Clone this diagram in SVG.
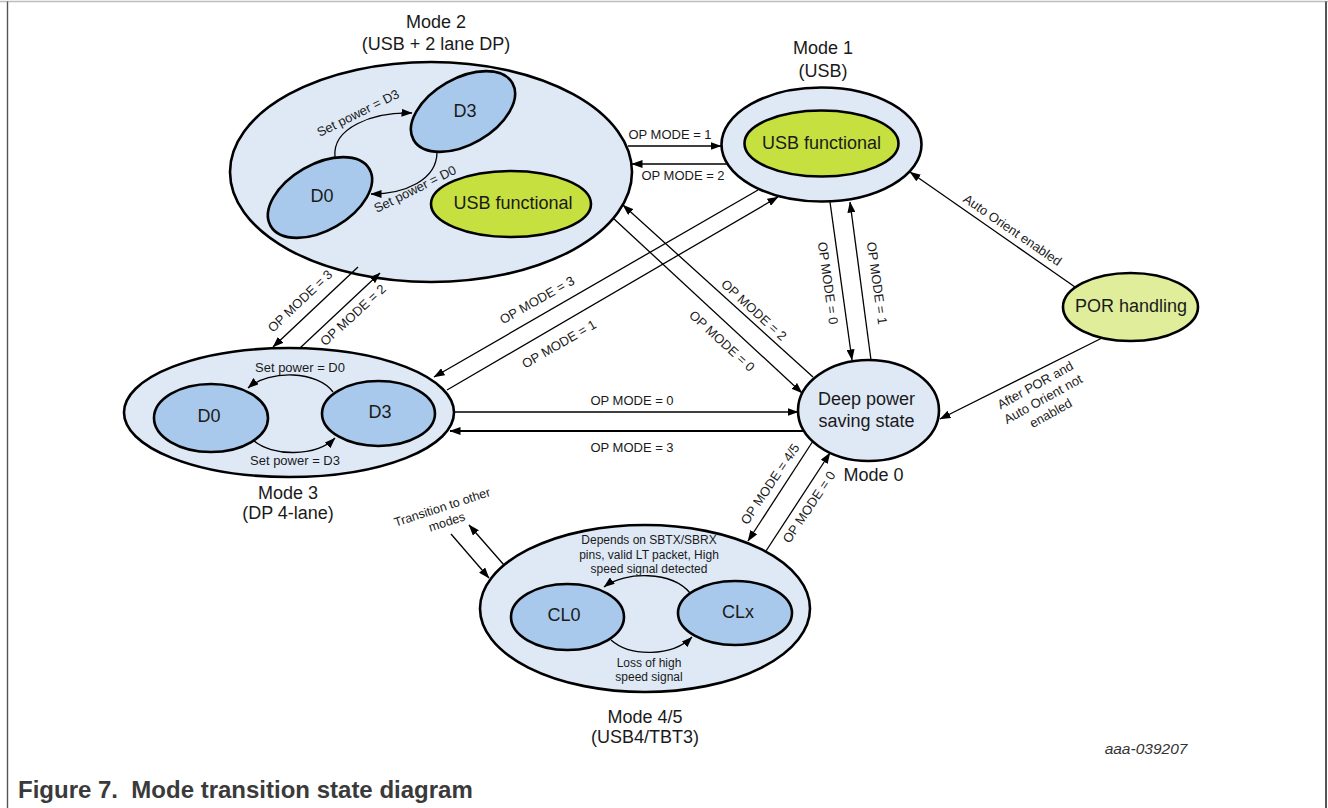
<svg xmlns="http://www.w3.org/2000/svg" width="1328" height="808" viewBox="0 0 1328 808">
<defs>
<marker id="ah" markerUnits="userSpaceOnUse" markerWidth="11" markerHeight="8" refX="10.5" refY="4" orient="auto">
<path d="M0,0 L11,4 L0,8 z" fill="#000"/>
</marker>
<style>
text{font-family:"Liberation Sans",Arial,sans-serif;fill:#1a1a1a;text-anchor:middle}
.big{font-size:18px}
.sm{font-size:13px}
.xs{font-size:12px}
.outer{fill:#dfe9f6;stroke:#000;stroke-width:2.6}
.inner{fill:#a8c9eb;stroke:#000;stroke-width:2.6}
.green{fill:#c6e040;stroke:#000;stroke-width:2.6}
.lgreen{fill:#e0ee9c;stroke:#000;stroke-width:2.6}
.c{fill:none;stroke:#000;stroke-width:1.3}
.ca{fill:none;stroke:#000;stroke-width:1.3;marker-end:url(#ah)}
</style>
</defs>
<rect width="1328" height="808" fill="#fff"/>
<g id="frame">
<line x1="0" y1="1.5" x2="1328" y2="1.5" stroke="#bdbdbd" stroke-width="1.5"/>
<line x1="7.5" y1="1.5" x2="7.5" y2="808" stroke="#555" stroke-width="1.4"/>
<line x1="1326" y1="1.5" x2="1326" y2="808" stroke="#555" stroke-width="2"/>
</g>

<g id="mode2">
<ellipse class="outer" cx="431" cy="172" rx="201" ry="110"/>
<text class="big" x="436" y="28">Mode 2</text>
<text class="big" x="436" y="50">(USB + 2 lane DP)</text>
<g id="mode2-d3">
<ellipse class="inner" cx="463" cy="111.5" rx="57" ry="33" transform="rotate(-30 463 111.5)"/>
<text class="big" x="465" y="117">D3</text>
</g>
<g id="mode2-d0">
<ellipse class="inner" cx="320" cy="197.5" rx="57" ry="33" transform="rotate(-30 320 197.5)"/>
<text class="big" x="322" y="202">D0</text>
</g>
<g id="mode2-usb">
<ellipse class="green" cx="511" cy="204" rx="80" ry="33"/>
<text class="big" x="513" y="209">USB functional</text>
</g>
<path class="ca" d="M335,157 C332,128 372,112 412,113"/>
<path class="ca" d="M437,152 C437,180 405,194 371,194"/>
<text class="sm" transform="translate(358,113) rotate(-26.5)" y="4.5">Set power = D3</text>
<text class="sm" transform="translate(415,189) rotate(-26.5)" y="4.5">Set power = D0</text>
</g>

<g id="mode1">
<ellipse class="outer" cx="821.5" cy="144.5" rx="100" ry="57"/>
<ellipse class="green" cx="821.5" cy="143.5" rx="77" ry="33"/>
<text class="big" x="821.5" y="149">USB functional</text>
<text class="big" x="823" y="54">Mode 1</text>
<text class="big" x="823" y="77">(USB)</text>
</g>

<g id="mode3">
<ellipse class="outer" cx="289" cy="412.5" rx="165" ry="64.5"/>
<g id="mode3-d0">
<ellipse class="inner" cx="211" cy="418" rx="57" ry="34"/>
<text class="big" x="209" y="422">D0</text>
</g>
<g id="mode3-d3">
<ellipse class="inner" cx="378.5" cy="413.5" rx="56.5" ry="32.5"/>
<text class="big" x="380" y="418">D3</text>
</g>
<path class="ca" d="M333,392 C318,371 270,369 248,388"/>
<path class="ca" d="M253,440 C272,457 316,457 335,438"/>
<text class="sm" x="300" y="372">Set power = D0</text>
<text class="sm" x="295" y="465">Set power = D3</text>
<text class="big" x="288" y="499">Mode 3</text>
<text class="big" x="288" y="519">(DP 4-lane)</text>
</g>

<g id="mode0">
<ellipse class="outer" cx="868.5" cy="410.5" rx="70.5" ry="50.5"/>
<text class="big" x="866.5" y="405">Deep power</text>
<text class="big" x="866.5" y="427">saving state</text>
<text class="big" x="873.5" y="481">Mode 0</text>
</g>

<g id="por">
<ellipse class="lgreen" cx="1130.5" cy="307" rx="67.5" ry="34"/>
<text class="big" x="1131" y="312">POR handling</text>
</g>

<g id="mode45">
<ellipse class="outer" cx="645" cy="608.5" rx="165" ry="83.5"/>
<g id="mode45-cl0">
<ellipse class="inner" cx="567.5" cy="617" rx="56.5" ry="33"/>
<text class="big" x="564" y="621">CL0</text>
</g>
<g id="mode45-clx">
<ellipse class="inner" cx="735" cy="613" rx="57" ry="32"/>
<text class="big" x="738" y="618">CLx</text>
</g>
<path class="ca" d="M690,593 C672,571 625,571 604,587"/>
<path class="ca" d="M611,640 C630,657 672,657 692,637"/>
<text class="xs" x="649" y="544">Depends on SBTX/SBRX</text>
<text class="xs" x="649" y="559">pins, valid LT packet, High</text>
<text class="xs" x="649" y="573">speed signal detected</text>
<text class="xs" x="649" y="667">Loss of high</text>
<text class="xs" x="649" y="681">speed signal</text>
<text class="big" x="645" y="723">Mode 4/5</text>
<text class="big" x="645" y="743">(USB4/TBT3)</text>
</g>

<g id="connectors">
<line class="ca" x1="628" y1="146" x2="721" y2="146"/>
<line class="ca" x1="727" y1="164" x2="632" y2="164"/>
<line class="ca" x1="758" y1="190" x2="434" y2="377"/>
<line class="ca" x1="447" y1="390" x2="778" y2="197"/>
<line class="ca" x1="613" y1="218" x2="802" y2="393"/>
<line class="ca" x1="813" y1="377" x2="623" y2="205"/>
<line class="ca" x1="358" y1="267" x2="273" y2="347"/>
<line class="ca" x1="300" y1="348" x2="380" y2="273"/>
<line class="ca" x1="454" y1="412" x2="798" y2="412"/>
<line class="ca" x1="804" y1="431" x2="450" y2="431" style="stroke-width:1.8"/>
<line class="ca" x1="830" y1="202" x2="852" y2="360"/>
<line class="ca" x1="871" y1="360" x2="850" y2="202"/>
<line class="ca" x1="1075" y1="287" x2="910" y2="172"/>
<line class="ca" x1="1102" y1="338" x2="940" y2="419"/>
<line class="ca" x1="813" y1="441" x2="748" y2="541"/>
<line class="ca" x1="766" y1="551" x2="830" y2="453"/>
<line class="ca" x1="451" y1="534" x2="489" y2="578"/>
<line class="ca" x1="504" y1="565" x2="469" y2="525"/>

<g id="connector-labels">
<text class="sm" x="670" y="139">OP MODE = 1</text>
<text class="sm" x="683" y="180">OP MODE = 2</text>
<text class="sm" transform="translate(537,300) rotate(-29.5)" y="4.5">OP MODE = 3</text>
<text class="sm" transform="translate(559,344) rotate(-30)" y="4.5">OP MODE = 1</text>
<text class="sm" transform="translate(754,310) rotate(42.5)" y="4.5">OP MODE = 2</text>
<text class="sm" transform="translate(722,341) rotate(42.5)" y="4.5">OP MODE = 0</text>
<text class="sm" transform="translate(300,301) rotate(-43.5)" y="4.5">OP MODE = 3</text>
<text class="sm" transform="translate(353,315) rotate(-42.5)" y="4.5">OP MODE = 2</text>
<text class="sm" x="632" y="405">OP MODE = 0</text>
<text class="sm" x="632" y="452">OP MODE = 3</text>
<text class="sm" transform="translate(828,283) rotate(82)" y="4.5">OP MODE = 0</text>
<text class="sm" transform="translate(877,283) rotate(82)" y="4.5">OP MODE = 1</text>
<text class="sm" transform="translate(1012.5,230) rotate(34.5)" y="4.5">Auto Orient enabled</text>
<g transform="translate(1043,399) rotate(-29)">
<text class="sm" y="-11.5">After POR and</text>
<text class="sm" y="4.5">Auto Orient not</text>
<text class="sm" y="20.5">enabled</text>
</g>
<text class="sm" transform="translate(770,484) rotate(-56)" y="4.5">OP MODE = 4/5</text>
<text class="sm" transform="translate(809,507) rotate(-56)" y="4.5">OP MODE = 0</text>
<g transform="translate(444.5,514.5) rotate(-18)">
<text class="xs" y="-3.5" style="font-size:12.5px">Transition to other</text>
<text class="xs" y="12" style="font-size:12.5px">modes</text>
</g>
</g>
</g>

<text x="1146" y="754" style="font-size:15.5px;font-style:italic;fill:#333">aaa-039207</text>
<text x="18" y="798" style="font-size:24px;font-weight:bold;fill:#3a3a3a;text-anchor:start;white-space:pre">Figure 7.  Mode transition state diagram</text>
</svg>
